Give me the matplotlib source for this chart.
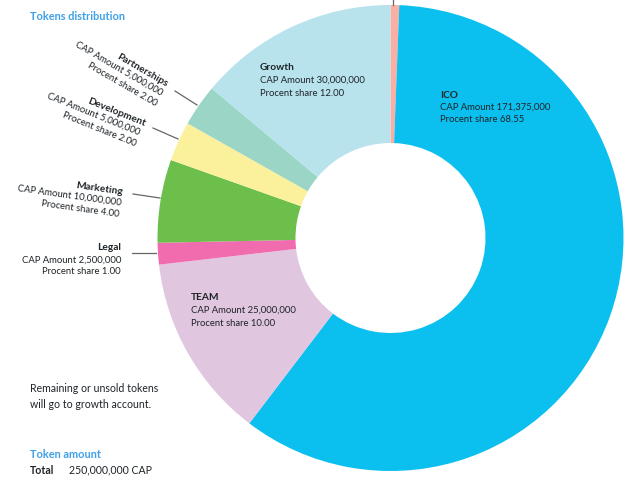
"""Tokens distribution donut chart."""

import matplotlib
matplotlib.use("Agg")
import matplotlib.pyplot as plt

# Shares as drawn (the slices do not follow the printed percentages)
slice_names = ["Reserve", "ICO", "TEAM", "Legal", "Marketing", "Development", "Partnerships", "Growth"]
drawn_shares = [0.6, 59.7, 12.8, 1.5, 5.75, 2.75, 2.9, 13.9]
slice_colours = ["#F9AFA3", "#0BBFEE", "#E1C6E0", "#F06CAE", "#6CBF4B", "#FBF09B", "#9AD5C5", "#B8E3ED"]

cap_amounts = {
    "ICO": "171,375,000",
    "TEAM": "25,000,000",
    "Legal": "2,500,000",
    "Marketing": "10,000,000",
    "Development": "5,000,000",
    "Partnerships": "5,000,000",
    "Growth": "30,000,000",
}
procent_shares = {
    "ICO": "68.55",
    "TEAM": "10.00",
    "Legal": "1.00",
    "Marketing": "4.00",
    "Development": "2.00",
    "Partnerships": "2.00",
    "Growth": "12.00",
}

BLUE = "#3FA0E8"
DARK = "#1E2428"
HEIGHT = 484

plt.rcParams["font.family"] = ["Lato", "DejaVu Sans"]
plt.rcParams["font.size"] = 6.85

fig = plt.figure(figsize=(6.4, 4.84), dpi=100)
ax = fig.add_axes([0, 0, 1, 1])

ax.pie(
    drawn_shares,
    colors=slice_colours,
    startangle=90,
    counterclock=False,
    radius=233,
    center=(390.5, HEIGHT - 238),
    wedgeprops={"width": 138, "linewidth": 0},
)
ax.set_xlim(0, 640)
ax.set_ylim(0, HEIGHT)
ax.axis("off")


def px(x, y, text, color=DARK, **kwargs):
    ax.text(x, HEIGHT - y, text, va="center", color=color, **kwargs)


def inside_label(x, y, name):
    px(x, y, name, fontweight="bold", fontsize=7.3)
    px(x, y + 12.5, f"CAP Amount {cap_amounts[name]}")
    px(x, y + 25, f"Procent share {procent_shares[name]}")


def outside_label(name, points, angle):
    lines = [name, f"CAP Amount {cap_amounts[name]}", f"Procent share {procent_shares[name]}"]
    for (x, y), line, weight, size in zip(points, lines, ["bold", "normal", "normal"], [7.3, 6.85, 6.85]):
        px(x, y, line, ha="right", rotation=-angle, rotation_mode="anchor", fontweight=weight, fontsize=size)


inside_label(260, 68, "Growth")
inside_label(440, 95, "ICO")
inside_label(191, 298, "TEAM")

outside_label("Partnerships", [(167, 85), (162, 93), (156, 104)], 30)
outside_label("Development", [(145, 124), (140, 133), (136, 144)], 22)
outside_label("Marketing", [(123, 192), (121, 203), (119, 214)], 8)
outside_label("Legal", [(121, 247), (121, 260), (121, 272)], 0)

leaders = [
    ((175, 91), (197, 105)),
    ((153, 128), (178, 139)),
    ((133, 194), (160, 198)),
    ((132, 253), (156, 253)),
    ((393, 0), (393, 5)),
]
for (x0, y0), (x1, y1) in leaders:
    ax.plot([x0, x1], [HEIGHT - y0, HEIGHT - y1], color="#666666", linewidth=0.9)

px(30, 16, "Tokens distribution", color=BLUE, fontweight="bold", fontsize=7.9)
px(30, 388, "Remaining or unsold tokens", fontsize=7.6)
px(30, 404, "will go to growth account.", fontsize=7.6)
px(30, 454, "Token amount", color=BLUE, fontweight="bold", fontsize=7.9)
px(30, 470, "Total", fontweight="bold", fontsize=7.6)
px(69, 470, "250,000,000 CAP", fontsize=7.6)

fig.savefig("out.png", dpi=100)
